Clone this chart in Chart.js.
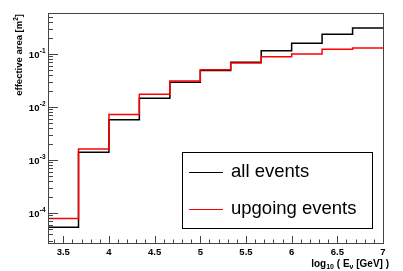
<!DOCTYPE html>
<html>
<head>
<meta charset="utf-8">
<script src="https://cdn.jsdelivr.net/npm/chart.js@4.4.0/dist/chart.umd.min.js"></script>
<style>
html,body{margin:0;padding:0;background:#fff;}
#wrap{width:403px;height:271px;position:relative;}
</style>
</head>
<body>
<div id="wrap"><canvas id="c" width="403" height="271"></canvas></div>
<script>
// ---- data ----
const binEdges = [3.333, 3.667, 4.0, 4.333, 4.667, 5.0, 5.333, 5.667, 6.0, 6.333, 6.667, 7.0];
const allEvents = [5.4e-5, 1.40e-3, 5.75e-3, 0.0146, 0.0292, 0.0489, 0.070, 0.115, 0.159, 0.235, 0.31];
const upgoingEvents = [7.9e-5, 1.62e-3, 7.2e-3, 0.0174, 0.0309, 0.0506, 0.068, 0.089, 0.100, 0.123, 0.130];
const seriesLabels = ['all events', 'upgoing events'];
const xTicks = [3.5, 4, 4.5, 5, 5.5, 6, 6.5, 7];
const xTickLabels = ['3.5', '4', '4.5', '5', '5.5', '6', '6.5', '7'];
const yTicks = [1e-4, 1e-3, 1e-2, 1e-1];
const yTickExponents = ['-4', '-3', '-2', '-1'];
const yTitle = 'effective area [m';
const yTitleSup = '2';
const yTitleEnd = ']';
const xRange = [3.333, 7.0];
const yRange = [2.72e-5, 0.594];

function histPoints(edges, vals) {
  const pts = vals.map((v, i) => ({x: edges[i], y: v}));
  pts.push({x: edges[edges.length - 1], y: vals[vals.length - 1]});
  return pts;
}

const FONT = '"Liberation Sans", Arial, Helvetica, sans-serif';
const AXIS_COL = '#444';

const overlay = {
  id: 'overlay',
  afterDraw(chart) {
    const ctx = chart.ctx;
    const a = chart.chartArea;
    const xs = chart.scales.x, ys = chart.scales.y;
    ctx.save();
    // frame
    ctx.strokeStyle = AXIS_COL;
    ctx.lineWidth = 1;
    ctx.strokeRect(Math.round(a.left) + 0.5, Math.round(a.top) + 0.5, Math.round(a.right - a.left), Math.round(a.bottom - a.top));

    // x ticks (inside, pointing up)
    ctx.beginPath();
    const x0 = Math.ceil(xRange[0] * 10), x1 = Math.floor(xRange[1] * 10);
    for (let k = x0; k <= x1; k++) {
      const v = k / 10;
      const px = Math.round(xs.getPixelForValue(v)) + 0.5;
      const major = (k % 5 === 0);
      ctx.moveTo(px, a.bottom);
      ctx.lineTo(px, a.bottom - (major ? 7 : 3.5));
    }
    // y ticks (inside, pointing right)
    for (let e = -5; e <= 0; e++) {
      for (let m = 1; m <= 9; m++) {
        const v = m * Math.pow(10, e);
        if (v < yRange[0] || v > yRange[1]) continue;
        const py = Math.round(ys.getPixelForValue(v)) + 0.5;
        ctx.moveTo(a.left, py);
        ctx.lineTo(a.left + (m === 1 ? 10 : 5), py);
      }
    }
    ctx.stroke();

    // y tick labels 10^n
    ctx.fillStyle = '#000';
    yTicks.forEach((v, i) => {
      const py = ys.getPixelForValue(v);
      const xEnd = a.left - 2.5;
      ctx.font = 'bold 6.5px ' + FONT;
      const ws = ctx.measureText(yTickExponents[i]).width;
      ctx.textAlign = 'left';
      ctx.textBaseline = 'alphabetic';
      ctx.fillText(yTickExponents[i], xEnd - ws, py - 1.5);
      ctx.font = 'bold 9.5px ' + FONT;
      ctx.textAlign = 'right';
      ctx.textBaseline = 'alphabetic';
      ctx.fillText('10', xEnd - ws - 0.3, py + 3.8);
    });

    // x tick labels
    ctx.font = 'bold 9.5px ' + FONT;
    ctx.textAlign = 'center';
    ctx.textBaseline = 'alphabetic';
    xTicks.forEach((v, i) => {
      ctx.fillText(xTickLabels[i], xs.getPixelForValue(v), a.bottom + 11.5);
    });

    // x title: log10 ( E_nu [GeV] )
    {
      const parts = [
        {t: 'log', s: 10, dy: 0},
        {t: '10', s: 7, dy: 2.5},
        {t: ' ( E', s: 10, dy: 0},
        {t: '\u03bd', s: 7, dy: 2.5},
        {t: ' [GeV] )', s: 10, dy: 0}
      ];
      let w = 0;
      parts.forEach(p => { ctx.font = 'bold ' + p.s + 'px ' + FONT; p.w = ctx.measureText(p.t).width; w += p.w; });
      let x = a.right + 6 - w;
      const base = a.bottom + 23.5;
      ctx.textAlign = 'left';
      parts.forEach(p => { ctx.font = 'bold ' + p.s + 'px ' + FONT; ctx.fillText(p.t, x, base + p.dy); x += p.w; });
    }

    // y title rotated, aligned to top
    {
      ctx.save();
      ctx.translate(21.5, a.top + 1);
      ctx.rotate(-Math.PI / 2);
      const parts = [
        {t: yTitle, s: 9.5, dy: 0},
        {t: yTitleSup, s: 6.5, dy: -4},
        {t: yTitleEnd, s: 9.5, dy: 0}
      ];
      let w = 0;
      parts.forEach(p => { ctx.font = 'bold ' + p.s + 'px ' + FONT; p.w = ctx.measureText(p.t).width; w += p.w; });
      let x = -w;
      ctx.textAlign = 'left';
      ctx.textBaseline = 'alphabetic';
      parts.forEach(p => { ctx.font = 'bold ' + p.s + 'px ' + FONT; ctx.fillText(p.t, x, p.dy); x += p.w; });
      ctx.restore();
    }

    // legend box
    {
      const W = a.right - a.left, H = a.bottom - a.top;
      const lx = a.left + 0.40 * W, rx = a.left + 0.967 * W;
      const ty = a.top + 0.605 * H, by = a.top + 0.935 * H;
      ctx.fillStyle = '#fff';
      ctx.fillRect(lx, ty, rx - lx, by - ty);
      ctx.strokeStyle = '#000';
      ctx.lineWidth = 1;
      ctx.strokeRect(Math.round(lx) + 0.5, Math.round(ty) + 0.5, Math.round(rx - lx), Math.round(by - ty));
      const ds = chart.data.datasets;
      const order = [1, 0];
      const rows = [ty + 0.26 * (by - ty), ty + 0.75 * (by - ty)];
      order.forEach((di, r) => {
        const d = ds[di];
        const y = Math.round(rows[r]) + 0.5;
        ctx.strokeStyle = d.borderColor;
        ctx.lineWidth = 1;
        ctx.beginPath();
        ctx.moveTo(lx + 7, y);
        ctx.lineTo(lx + 41, y);
        ctx.stroke();
        ctx.fillStyle = '#000';
        ctx.font = '18.5px ' + FONT;
        ctx.textAlign = 'left';
        ctx.textBaseline = 'middle';
        ctx.fillText(d.label, lx + 49, rows[r]);
      });
    }
    ctx.restore();
  }
};

new Chart(document.getElementById('c'), {
  type: 'line',
  data: {
    datasets: [
      {
        label: seriesLabels[1],
        data: histPoints(binEdges, upgoingEvents),
        borderColor: '#ff0000',
        borderWidth: 1.5,
        pointRadius: 0,
        stepped: 'before',
        fill: false,
        order: 0
      },
      {
        label: seriesLabels[0],
        data: histPoints(binEdges, allEvents),
        borderColor: '#000000',
        borderWidth: 1.5,
        pointRadius: 0,
        stepped: 'before',
        fill: false,
        order: 1
      }
    ]
  },
  options: {
    responsive: false,
    animation: false,
    devicePixelRatio: 1,
    layout: {padding: {left: 0, right: 20, top: 13, bottom: 0}},
    plugins: {legend: {display: false}, tooltip: {enabled: false}},
    scales: {
      x: {
        type: 'linear',
        min: xRange[0], max: xRange[1],
        grid: {display: false, drawTicks: false},
        border: {display: false},
        ticks: {display: false},
        afterBuildTicks: s => { s.ticks = xTicks.map(v => ({value: v})); },
        afterFit: s => { s.height = 28; }
      },
      y: {
        type: 'logarithmic',
        min: yRange[0], max: yRange[1],
        grid: {display: false, drawTicks: false},
        border: {display: false},
        ticks: {display: false},
        afterBuildTicks: s => { s.ticks = yTicks.map(v => ({value: v})); },
        afterFit: s => { s.width = 48; }
      }
    }
  },
  plugins: [overlay]
});
</script>
</body>
</html>
